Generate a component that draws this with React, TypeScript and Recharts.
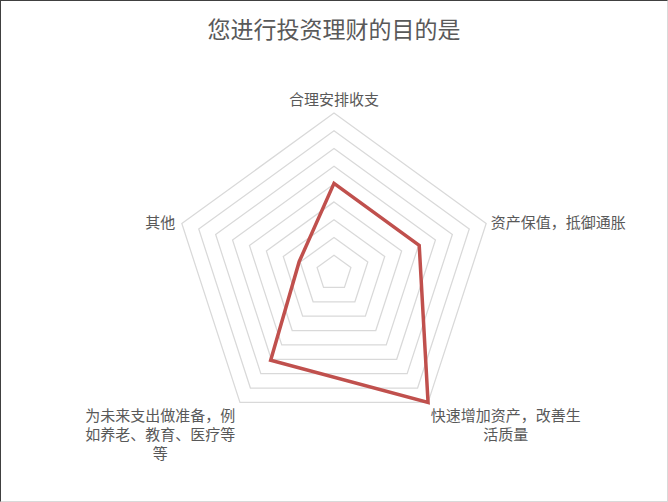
import { RadarChart, Radar, PolarGrid, PolarAngleAxis, PolarRadiusAxis } from 'recharts';

const title = '您进行投资理财的目的是';

const categories = [
  '合理安排收支',
  '资产保值，抵御通胀',
  '快速增加资产，改善生活质量',
  '为未来支出做准备，例如养老、教育、医疗等等',
  '其他',
];

// how Excel wrapped each category label
const labelLines = [
  ['合理安排收支'],
  ['资产保值，抵御通胀'],
  ['快速增加资产，改善生', '活质量'],
  ['为未来支出做准备，例', '如养老、教育、医疗等', '等'],
  ['其他'],
];

const values = [25.2, 25.2, 45, 30.3, 10.3];

const data = categories.map((name, i) => ({ name, value: values[i] }));

const FONT = '"Noto Sans CJK SC", "Noto Sans", sans-serif';
const LINE_H = 19;

// nudges so labels sit where Excel put them
const tickOffsets = [
  { dx: 0, dy: -7, anchor: 'middle' },
  { dx: -3, dy: 0, anchor: 'start' },
  { dx: 73, dy: 6, anchor: 'middle' },
  { dx: -75, dy: 6, anchor: 'middle' },
  { dx: 1, dy: 0, anchor: 'end' },
];

const AngleTick = (props: any) => {
  const { x, y, index } = props;
  const off = tickOffsets[index];
  const lines = labelLines[index];
  return (
    <g>
      {lines.map((line, i) => (
        <text
          key={i}
          x={x + off.dx}
          y={y + off.dy + i * LINE_H}
          textAnchor={off.anchor}
          dominantBaseline="central"
          fill="#595959"
          fontSize={15}
          fontFamily={FONT}
        >
          {line}
        </text>
      ))}
    </g>
  );
};

export default function App() {
  return (
    <div
      style={{
        position: 'absolute',
        left: 0,
        top: 0,
        width: 668,
        height: 502,
        boxSizing: 'border-box',
        background: '#fff',
        borderTop: '1px solid #404040',
        borderLeft: '1px solid #404040',
        borderRight: '1px solid #d9d9d9',
        borderBottom: '1px solid #d9d9d9',
      }}
    >
      <div
        style={{
          position: 'absolute',
          left: 0,
          width: '100%',
          top: 10,
          textAlign: 'center',
          fontFamily: FONT,
          fontSize: 23,
          color: '#595959',
          lineHeight: '34px',
        }}
      >
        {title}
      </div>
      <div style={{ position: 'absolute', left: -1, top: -1 }}>
        <RadarChart width={668} height={502} data={data} cx={334} cy={273} outerRadius={160}>
          <PolarGrid gridType="polygon" radialLines={false} stroke="#d9d9d9" strokeWidth={1.25} />
          <PolarRadiusAxis domain={[0, 45]} tickCount={10} tick={false} axisLine={false} />
          <PolarAngleAxis dataKey="name" tick={<AngleTick />} tickLine={false} axisLine={false} />
          <Radar
            dataKey="value"
            stroke="#c0504d"
            strokeWidth={3.5}
            fill="none"
            fillOpacity={0}
            dot={false}
            isAnimationActive={false}
          />
        </RadarChart>
      </div>
    </div>
  );
}
